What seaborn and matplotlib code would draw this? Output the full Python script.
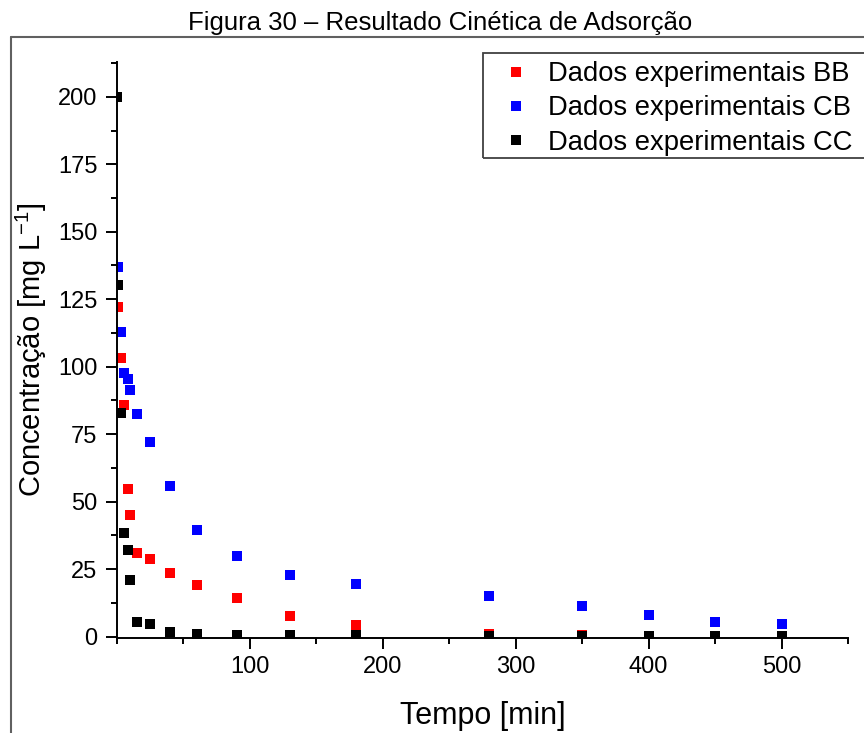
import pandas as pd
import matplotlib
matplotlib.use("Agg")
import matplotlib.pyplot as plt
import seaborn as sns
from matplotlib.lines import Line2D
from matplotlib.patches import Rectangle
from matplotlib.ticker import MultipleLocator

# Tempo [min] and concentrations [mg L-1]
tempo_bb = [1, 3, 5, 8, 10, 15, 25, 40, 60, 90, 130, 180, 280, 350, 400, 450, 500]
conc_bb = [122.1, 103.2, 85.9, 54.8, 45.2, 31.0, 28.7, 23.4, 19.1, 14.4, 7.8, 4.3, 0.8, 0.5, 0.3, 0.3, 0.3]

tempo_cb = [1, 3, 5, 8, 10, 15, 25, 40, 60, 90, 130, 180, 280, 350, 400, 450, 500]
conc_cb = [137.1, 112.8, 97.6, 95.4, 91.2, 82.6, 72.1, 55.7, 39.4, 29.7, 22.8, 19.4, 15.1, 11.5, 8.1, 5.6, 4.8]

tempo_cc = [0, 1, 3, 5, 8, 10, 15, 25, 40, 60, 90, 130, 180, 280, 350, 400, 450, 500]
conc_cc = [200.0, 130.4, 82.8, 38.4, 32.2, 21.1, 5.3, 4.7, 1.6, 0.8, 0.5, 0.5, 0.5, 0.3, 0.3, 0.3, 0.3, 0.3]

series = [
    ("Dados experimentais BB", tempo_bb, conc_bb, "#ff0000"),
    ("Dados experimentais CB", tempo_cb, conc_cb, "#0000ff"),
    ("Dados experimentais CC", tempo_cc, conc_cc, "#000000"),
]

sns.set_style("ticks")
plt.rcParams["font.family"] = ["Liberation Sans", "DejaVu Sans"]
plt.rcParams["mathtext.fontset"] = "custom"
plt.rcParams["mathtext.rm"] = "Liberation Sans"
for key in ["text.color", "axes.labelcolor", "xtick.color", "ytick.color"]:
    plt.rcParams[key] = "black"

fig = plt.figure(figsize=(8.64, 7.33), dpi=100)
ax = fig.add_axes([117 / 864, 1 - 638 / 733, 731 / 864, (638 - 61.7) / 733])

for name, t, c, color in series:
    df = pd.DataFrame({"Tempo": t, "Conc": c})
    sns.scatterplot(data=df, x="Tempo", y="Conc", marker="s", s=60, color=color,
                    linewidth=0, label=name, ax=ax, legend=False)

ax.set_xlim(0, 550)
ax.set_ylim(-0.5, 213)
ax.set_xticks([100, 200, 300, 400, 500])
ax.xaxis.set_minor_locator(MultipleLocator(50))
ax.yaxis.set_major_locator(MultipleLocator(25))
ax.yaxis.set_minor_locator(MultipleLocator(12.5))

for side in ["top", "right"]:
    ax.spines[side].set_visible(False)
for side in ["left", "bottom"]:
    ax.spines[side].set_linewidth(1.4)
    ax.spines[side].set_color("black")

ax.tick_params(which="major", length=8, width=1.4, labelsize=17, color="black")
ax.tick_params(axis="x", which="major", pad=5)
ax.tick_params(axis="y", which="major", pad=6)
ax.tick_params(which="minor", length=4, width=1.4, color="black")

ax.set_xlabel("Tempo [min]", fontsize=22)
ax.set_ylabel(r"Concentração [mg L$^{\mathregular{-1}}$]", fontsize=21)
ax.xaxis.set_label_coords(0.5, -0.11)
ax.yaxis.set_label_coords(-0.093, 0.5)

handles = [Line2D([], [], marker="s", linestyle="none", markersize=7,
                  markerfacecolor=color, markeredgewidth=0)
           for _, _, _, color in series]
labels = [name for name, _, _, _ in series]
leg_left = 482.7 / 864
leg_top = 1 - 53.5 / 733
leg_bottom = 1 - 158.3 / 733
leg = ax.legend(handles, labels, loc="upper left",
                bbox_to_anchor=(leg_left, leg_top), bbox_transform=fig.transFigure,
                borderaxespad=0, fontsize=19.7, frameon=False, borderpad=0.28,
                handlelength=1.9, handletextpad=0.2, labelspacing=0.3)

# legend border, running past the right edge as in the original
fig.add_artist(Rectangle((leg_left, leg_bottom), 0.6, leg_top - leg_bottom,
                         transform=fig.transFigure, fill=False,
                         edgecolor="#404040", linewidth=1.3))

fig.text(440.5 / 864, 1 - 30.4 / 733, "Figura 30 – Resultado Cinética de Adsorção",
         ha="center", va="baseline", fontsize=18.5)

# outer frame of the figure panel
y_top = 1 - 37.3 / 733
x_left = 11 / 864
fig.add_artist(Line2D([x_left, 1.01], [y_top, y_top], transform=fig.transFigure,
                      color="#606060", linewidth=1.5))
fig.add_artist(Line2D([x_left, x_left], [-0.01, y_top], transform=fig.transFigure,
                      color="#606060", linewidth=1.5))

fig.savefig("out.png", dpi=100)
